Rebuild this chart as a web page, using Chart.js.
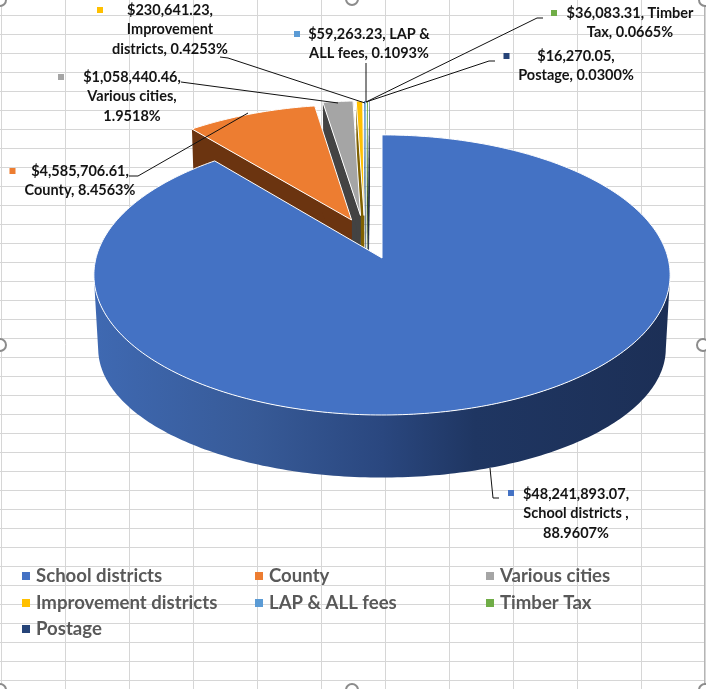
<!DOCTYPE html>
<html>
<head>
<meta charset="utf-8">
<style>
  html, body { margin: 0; padding: 0; background: #fff; overflow: hidden; }
  canvas { display: block; }
</style>
<script src="https://cdn.jsdelivr.net/npm/chart.js@4"></script>
</head>
<body>
<canvas id="taxChart" width="706" height="689"></canvas>
<script>
// data
const categories = ["School districts", "County", "Various cities", "Improvement districts", "LAP & ALL fees", "Timber Tax", "Postage"];
const amounts = [48241893.07, 4585706.61, 1058440.46, 230641.23, 59263.23, 36083.31, 16270.05];
const colors = ["#4472C4", "#ED7D31", "#A5A5A5", "#FFC000", "#5B9BD5", "#70AD47", "#264478"];
const wallColors = ["#1f3864", "#6b3410", "#434343", "#7f6000", "#2e4e6b", "#385723", "#131f3c"];
const labelLines = [
  ["$48,241,893.07,", "School districts ,", "88.9607%"],
  ["$4,585,706.61,", "County, 8.4563%"],
  ["$1,058,440.46,", "Various cities,", "1.9518%"],
  ["$230,641.23,", "Improvement", "districts, 0.4253%"],
  ["$59,263.23, LAP &", "ALL fees, 0.1093%"],
  ["$36,083.31, Timber", "Tax, 0.0665%"],
  ["$16,270.05,", "Postage, 0.0300%"]
];

// label layout: text centre x, first line y, key x, key y
const labelPos = [[576, 494, 511, 493], [80, 171, 12.5, 171], [132, 77, 61, 77], [170, 10, 100, 10], [369, 34, 297, 34], [630, 13, 554, 13], [576, 56, 506.5, 56]];
const leaders = [
  [[499, 498], [493, 498], [490, 468]],
  [[129, 176], [138, 176], [248, 113]],
  [[181, 82], [338, 103]],
  [[220, 57], [228, 58], [365, 103]],
  [[366, 63], [366, 102]],
  [[543, 18], [537, 18], [366, 102]],
  [[495, 61], [489, 61], [366, 102]]
];
const legendPos = [[22, 576], [255, 576], [486, 576], [22, 603], [255, 603], [486, 603], [22, 629]];

// exploded slice shift in units of pie radius
const sliceShift = [[0, 0], [-0.11, -0.285], [-0.078, -0.32], [-0.065, -0.32], [-0.06, -0.32], [-0.055, -0.32], [-0.05, -0.32]];

// fake perspective of the excel 3d pie
const view = { cx: 382, cy: 258, sx: 286, sy: 138, k: 0.121, depth: 75 };

function project(u, v, z) {
  const s = 1 / (1 - view.k * v);
  return [
    view.cx + view.sx * (1 - 0.015 * z) * u * s,
    view.cy + (view.depth * z + view.sy * (1 - 0.145 * z) * v) * s
  ];
}

function arcPoints(arc, shift, z, frontOnly) {
  const pts = [];
  const steps = Math.max(2, Math.ceil((arc.endAngle - arc.startAngle) * 60));
  for (let i = 0; i <= steps; i++) {
    const t = arc.startAngle + (arc.endAngle - arc.startAngle) * i / steps;
    if (frontOnly && Math.sin(t) < view.k) continue;
    pts.push(project(Math.cos(t) + shift[0], Math.sin(t) + shift[1], z));
  }
  return pts;
}

function fillPoly(ctx, pts, fill, stroke) {
  ctx.beginPath();
  pts.forEach((p, i) => i ? ctx.lineTo(p[0], p[1]) : ctx.moveTo(p[0], p[1]));
  ctx.closePath();
  ctx.fillStyle = fill;
  ctx.fill();
  if (stroke) {
    ctx.strokeStyle = stroke;
    ctx.lineWidth = 1;
    ctx.stroke();
  }
}

function drawSlice(ctx, arc, i) {
  const shift = sliceShift[i];
  const apexTop = project(shift[0], shift[1], 0);
  const apexLow = project(shift[0], shift[1], 1);
  const top = arcPoints(arc, shift, 0);
  const low = arcPoints(arc, shift, 1);

  if (i === 0) {
    // only the big slice shows its outer wall, shaded left to right
    const grad = ctx.createLinearGradient(94, 0, 671, 0);
    grad.addColorStop(0, "#3f69b2");
    grad.addColorStop(0.28, "#375a97");
    grad.addColorStop(0.5, "#2a477f");
    grad.addColorStop(0.66, "#1f3662");
    grad.addColorStop(1, "#1c2f56");
    const frontTop = arcPoints(arc, shift, 0, true);
    const frontLow = arcPoints(arc, shift, 1, true);
    fillPoly(ctx, frontTop.concat(frontLow.reverse()), grad);
  } else {
    fillPoly(ctx, [apexTop, top[0], low[0], apexLow], wallColors[i]);
    fillPoly(ctx, [apexTop, top[top.length - 1], low[low.length - 1], apexLow], wallColors[i]);
  }
  fillPoly(ctx, [apexTop].concat(top), colors[i], i < 4 ? "#fff" : null);
}

const sheetGrid = {
  id: "sheetGrid",
  beforeDraw(chart) {
    const ctx = chart.ctx;
    ctx.save();
    ctx.fillStyle = "#fff";
    ctx.fillRect(0, 0, chart.width, chart.height);
    ctx.strokeStyle = "#d6d6d6";
    ctx.lineWidth = 1;
    ctx.beginPath();
    for (let x = 1; x < 706; x += 64) { ctx.moveTo(x + 0.5, 0); ctx.lineTo(x + 0.5, 689); }
    for (let y = 15; y < 689; y += 19) { ctx.moveTo(0, y + 0.5); ctx.lineTo(706, y + 0.5); }
    ctx.stroke();
    ctx.restore();
  }
};

const pie3d = {
  id: "pie3d",
  beforeDatasetsDraw(chart) {
    const ctx = chart.ctx;
    const arcs = chart.getDatasetMeta(0).data;
    ctx.save();
    for (let i = arcs.length - 1; i >= 0; i--) drawSlice(ctx, arcs[i], i);
    ctx.restore();
    return false; // flat arcs not wanted
  }
};

const annotations = {
  id: "annotations",
  afterDraw(chart) {
    const ctx = chart.ctx;
    ctx.save();

    // leader lines
    ctx.strokeStyle = "#111";
    ctx.lineWidth = 1;
    leaders.forEach(line => {
      ctx.beginPath();
      line.forEach((p, i) => i ? ctx.lineTo(p[0], p[1]) : ctx.moveTo(p[0], p[1]));
      ctx.stroke();
    });

    // data labels
    ctx.font = "bold 14.5px Lato";
    ctx.textAlign = "center";
    ctx.textBaseline = "middle";
    labelLines.forEach((lines, i) => {
      const p = labelPos[i];
      ctx.fillStyle = colors[i];
      ctx.fillRect(p[2] - 3, p[3] - 3, 6, 6);
      ctx.fillStyle = "#141414";
      lines.forEach((txt, j) => ctx.fillText(txt, p[0], p[1] + j * 19.6));
    });

    // legend
    ctx.font = "bold 18.6px Lato";
    ctx.textAlign = "left";
    chart.data.labels.forEach((name, i) => {
      const p = legendPos[i];
      ctx.fillStyle = colors[i];
      ctx.fillRect(p[0], p[1] - 4, 8, 8);
      ctx.fillStyle = "#595959";
      ctx.fillText(name, p[0] + 14, p[1]);
    });

    // excel selection frame and handles
    ctx.strokeStyle = "#b5b5b5";
    ctx.beginPath();
    ctx.moveTo(704.5, 0);
    ctx.lineTo(704.5, 689);
    ctx.stroke();
    ctx.strokeStyle = "#8c8c8c";
    ctx.lineWidth = 2;
    ctx.fillStyle = "#fff";
    [[0, 0], [352, -1], [705, 0], [0, 345], [703, 345], [0, 690], [352, 690], [705, 690]].forEach(h => {
      ctx.beginPath();
      ctx.arc(h[0], h[1], 6, 0, Math.PI * 2);
      ctx.fill();
      ctx.stroke();
    });
    ctx.restore();
  }
};

new Chart(document.getElementById("taxChart"), {
  type: "pie",
  data: {
    labels: categories,
    datasets: [{
      label: "Amount",
      data: amounts,
      backgroundColor: colors
    }]
  },
  options: {
    responsive: false,
    animation: false,
    devicePixelRatio: 1,
    plugins: { legend: { display: false }, tooltip: { enabled: false } }
  },
  plugins: [sheetGrid, pie3d, annotations]
});
</script>
</body>
</html>
